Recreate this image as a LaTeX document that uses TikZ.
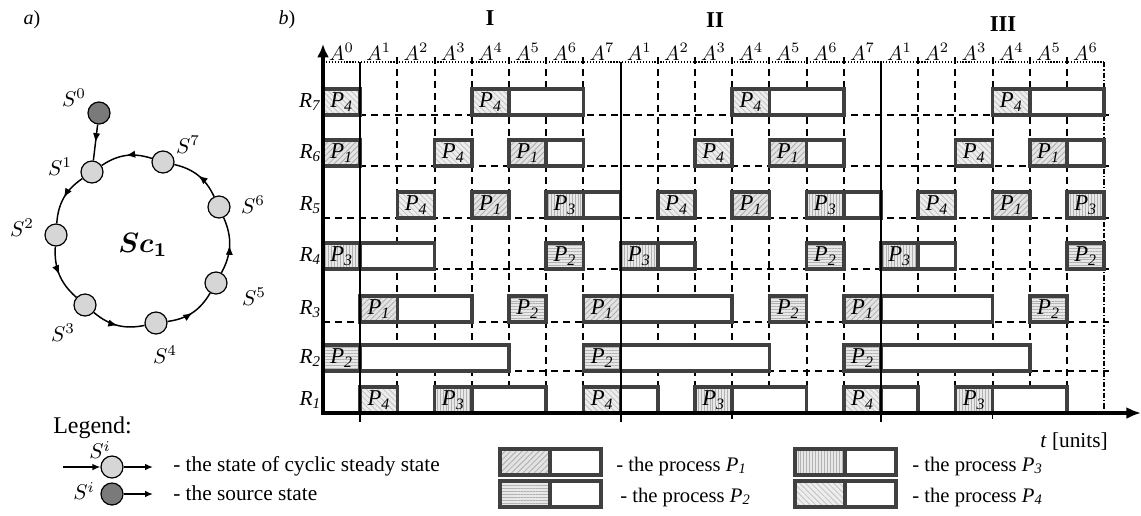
\documentclass[tikz,border=0pt]{standalone}
\usepackage{fontspec}
\setmainfont{Liberation Serif}
\usepackage{amsmath}
\usepackage{bm}
\usetikzlibrary{arrows.meta,patterns.meta,decorations.markings}
\newcommand{\setfs}[1]{\fontsize{#1}{#1}\selectfont}
\def\rowb{{0,413,371,322,269,218,166,115}}
\newcommand{\procbox}[4]{%
  \pgfmathsetmacro{\pbY}{\rowb[#1]}%
  \pgfmathsetmacro{\pbT}{\pbY-26}%
  \pgfmathsetmacro{\pbA}{323+37.2*#2}%
  \pgfmathsetmacro{\pbB}{323+37.2*(#2+1)}%
  \pgfmathsetmacro{\pbC}{323+37.2*(#2+#3)}%
  \fill[white] (\pbB,\pbY) rectangle (\pbC,\pbT);
  \fill[hatch#4] (\pbA,\pbY) rectangle (\pbB,\pbT);
  \draw[pbox] (\pbA,\pbY) rectangle (\pbC,\pbT);
  \draw[pbox] (\pbB,\pbY) -- (\pbB,\pbT);
  \node[plabel] (p#1-#2) at ({(\pbA+\pbB)/2},{\pbY-13}) {\textit{P}\textsubscript{\textit{#4}}};
}
\newcommand{\legbox}[3]{%
  \fill[white] (#1+50,#2) rectangle (#1+101,#2+26);
  \fill[hatch#3] (#1,#2) rectangle (#1+50,#2+26);
  \draw[pbox] (#1,#2) rectangle (#1+101,#2+26);
  \draw[pbox] (#1+50,#2) -- (#1+50,#2+26);
}
\begin{document}
\begin{tikzpicture}[x=0.75pt,y=-0.75pt,
  state/.style={circle, draw, line width=0.9pt, fill=black!16, minimum size=16.5pt, inner sep=0pt},
  srcstate/.style={state, fill=black!52},
  flow/.style={line width=1.1pt, postaction={decorate},
    decoration={markings, mark=at position 0.5 with {\arrow{Latex[length=7pt,width=5.5pt]}}}},
  legarrow/.style={line width=1.1pt, -{Latex[length=6pt,width=5pt]}},
  slab/.style={inner sep=0pt, font=\setfs{10}, scale=1.6},
  gridd/.style={line width=1.4pt, dash pattern=on 5.5pt off 3.5pt},
  topdot/.style={line width=1.2pt, dash pattern=on 0.9pt off 1.3pt},
  enddd/.style={line width=1.2pt, dash pattern=on 4pt off 1.5pt on 1pt off 1.5pt},
  solidv/.style={line width=1.6pt},
  yaxis/.style={line width=3pt, -{Latex[length=10pt,width=9pt]}},
  xaxis/.style={line width=2.4pt, -{Latex[length=11pt,width=9pt]}},
  pbox/.style={draw=black!75, line width=2.6pt},
  hatch1/.style={fill=black!11, postaction={pattern={Lines[angle=45,distance=3pt,line width=0.6pt]}, pattern color=black!32}},
  hatch2/.style={fill=black!9, postaction={pattern={Lines[angle=0,distance=2.2pt,line width=0.5pt]}, pattern color=black!30}},
  hatch3/.style={fill=black!9, postaction={pattern={Lines[angle=90,distance=2.2pt,line width=0.5pt]}, pattern color=black!30}},
  hatch4/.style={fill=black!7, postaction={pattern={Lines[angle=-45,distance=3pt,line width=0.6pt]}, pattern color=black!24}},
  plabel/.style={inner sep=0pt, font=\setfs{17}},
  rlab/.style={inner sep=0pt, anchor=east, font=\setfs{16}},
  alab/.style={inner sep=0pt, anchor=base, font=\setfs{10}, scale=1.55},
  roman/.style={inner sep=0pt, font=\setfs{17}\bfseries},
  legtext/.style={inner sep=0pt, anchor=base west, font=\setfs{16}},
  proctext/.style={inner sep=0pt, anchor=base west, font=\setfs{15.5}}
]
\useasboundingbox (0,0) rectangle (1141,515);

% ---------- panel a ----------
\node[inner sep=0pt, font=\setfs{15}] (la) at (32,20) {\textit{a})};
\node[srcstate] (S0) at (99,113) {};
\node[state] (S1) at (92,172) {};
\node[state] (S2) at (56,235) {};
\node[state] (S3) at (85,305) {};
\node[state] (S4) at (156,323) {};
\node[state] (S5) at (216,283) {};
\node[state] (S6) at (219,207) {};
\node[state] (S7) at (163,162) {};
\draw[flow] (S0) -- (S1);
\draw[flow] (S1) to[bend right=26] (S2);
\draw[flow] (S2) to[bend right=26] (S3);
\draw[flow] (S3) to[bend right=26] (S4);
\draw[flow] (S4) to[bend right=26] (S5);
\draw[flow] (S5) to[bend right=26] (S6);
\draw[flow] (S6) to[bend right=26] (S7);
\draw[flow] (S7) to[bend right=26] (S1);
\node[slab] (l0) at (74,98) {$S^{0}$};
\node[slab] (l1) at (60,167) {$S^{1}$};
\node[slab] (l2) at (22,228) {$S^{2}$};
\node[slab] (l3) at (63,333) {$S^{3}$};
\node[slab] (l4) at (165,355) {$S^{4}$};
\node[slab] (l5) at (254,297) {$S^{5}$};
\node[slab] (l6) at (253,205) {$S^{6}$};
\node[slab] (l7) at (188,145) {$S^{7}$};
\node[inner sep=0pt, font=\setfs{10}, scale=2.1] (sc) at (143,245) {$\bm{Sc_{1}}$};

% ---------- panel b: grid ----------
\node[inner sep=0pt, font=\setfs{15}] (lb) at (287,20) {\textit{b})};
\draw[topdot] (323,62) -- (1104,62);
\foreach \t in {2,3,4,5,6,7,9,10,11,12,13,14,16,17,18,19,20}
  \draw[gridd] ({323+37.2*\t},57) -- ({323+37.2*\t},413);
\foreach \r in {2,...,7} {
  \pgfmathsetmacro{\yy}{\rowb[\r]}
  \draw[gridd] (323,\yy) -- (1109,\yy);
}
\draw[enddd] (1104,62) -- (1104,413);

% ---------- boxes ----------
\procbox{7}{0}{1}{4}\procbox{7}{4}{3}{4}\procbox{7}{11}{3}{4}\procbox{7}{18}{3}{4}
\procbox{6}{0}{1}{1}\procbox{6}{3}{1}{4}\procbox{6}{5}{2}{1}\procbox{6}{10}{1}{4}
\procbox{6}{12}{2}{1}\procbox{6}{17}{1}{4}\procbox{6}{19}{2}{1}
\procbox{5}{2}{1}{4}\procbox{5}{4}{1}{1}\procbox{5}{6}{2}{3}\procbox{5}{9}{1}{4}
\procbox{5}{11}{1}{1}\procbox{5}{13}{2}{3}\procbox{5}{16}{1}{4}\procbox{5}{18}{1}{1}\procbox{5}{20}{1}{3}
\procbox{4}{0}{3}{3}\procbox{4}{6}{1}{2}\procbox{4}{8}{2}{3}\procbox{4}{13}{1}{2}
\procbox{4}{15}{2}{3}\procbox{4}{20}{1}{2}
\procbox{3}{1}{3}{1}\procbox{3}{5}{1}{2}\procbox{3}{7}{4}{1}\procbox{3}{12}{1}{2}
\procbox{3}{14}{4}{1}\procbox{3}{19}{1}{2}
\procbox{2}{0}{5}{2}\procbox{2}{7}{5}{2}\procbox{2}{14}{5}{2}
\procbox{1}{1}{1}{4}\procbox{1}{3}{3}{3}\procbox{1}{7}{2}{4}\procbox{1}{10}{3}{3}
\procbox{1}{14}{2}{4}\procbox{1}{17}{3}{3}

% ---------- solid separators and axes ----------
\foreach \t in {1,8,15}
  \draw[solidv] ({323+37.2*\t},62) -- ({323+37.2*\t},422);
\foreach \t in {11,18}
  \draw[line width=1.2pt] ({323+37.2*\t},413) -- ({323+37.2*\t},419);
\coordinate (O) at (323,413);
\coordinate (ytip) at (323,44);
\coordinate (xstart) at (321,413);
\coordinate (xtip) at (1141,413);
\draw[yaxis] (O) -- (ytip);
\draw[xaxis] (xstart) -- (xtip);

% ---------- labels ----------
\foreach \k [count=\c from 0] in {0,1,2,3,4,5,6,7,1,2,3,4,5,6,7,1,2,3,4,5,6}
  \node[alab] (a\c) at ({323+37.2*(\c+0.5)},60) {$A^{\k}$};
\foreach \r in {1,...,7} {
  \pgfmathsetmacro{\yy}{\rowb[\r]-13}
  \node[rlab] (r\r) at (321,\yy) {\textit{R}\textsubscript{\textit{\r}}};
}
\node[roman] (sI) at (490,18) {I};
\node[roman] (sII) at (715,20) {II};
\node[roman] (sIII) at (1003,24) {III};
\node[inner sep=0pt, anchor=base east, font=\setfs{16}] (tu) at (1108,447) {\textit{t} [units]};

% ---------- legend ----------
\node[inner sep=0pt, anchor=base west, font=\setfs{18}] (leg) at (53,433) {Legend:};
\node[state] (L1) at (112,467) {};
\node[srcstate] (L2) at (112,494) {};
\coordinate (L1in) at (63,467);
\coordinate (L1out) at (153,467);
\coordinate (L2out) at (153,494);
\draw[legarrow] (L1in) -- (L1);
\draw[legarrow] (L1) -- (L1out);
\draw[legarrow] (L2) -- (L2out);
\node[slab] (li1) at (100,450) {$S^{i}$};
\node[slab] (li2) at (84,491) {$S^{i}$};
\node[legtext] (lt1) at (173,471) {- the state of cyclic steady state};
\node[legtext] (lt2) at (173,500) {- the source state};

\legbox{500}{449}{1}
\legbox{500}{481}{2}
\legbox{795}{449}{3}
\legbox{795}{481}{4}
\node[proctext] (pt1) at (616,471) {- the process \textit{P}\textsubscript{\textit{1}}};
\node[proctext] (pt2) at (620,502) {- the process \textit{P}\textsubscript{\textit{2}}};
\node[proctext] (pt3) at (912,471) {- the process \textit{P}\textsubscript{\textit{3}}};
\node[proctext] (pt4) at (912,502) {- the process \textit{P}\textsubscript{\textit{4}}};
\end{tikzpicture}
\end{document}
